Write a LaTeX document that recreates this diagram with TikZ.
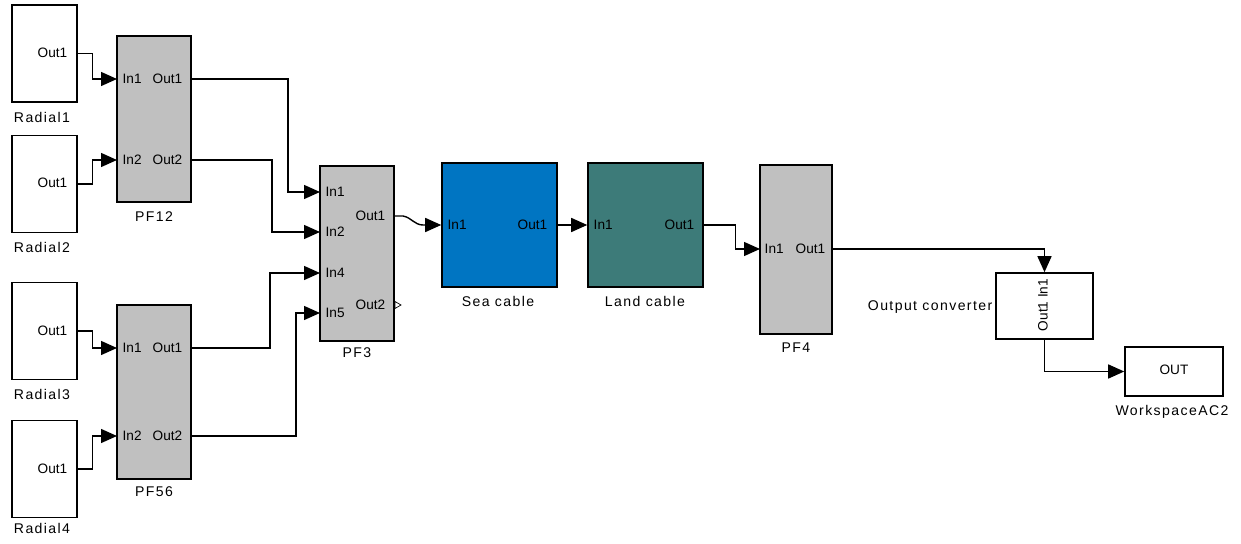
\documentclass[tikz,border=0pt]{standalone}
\usepackage{fontspec}
\setmainfont{Liberation Sans}
\newfontfamily\lblfont[LetterSpace=10]{Liberation Sans}
\usetikzlibrary{arrows.meta}
\definecolor{pfgray}{HTML}{C0C0C0}
\definecolor{seablue}{HTML}{0075C2}
\definecolor{landteal}{HTML}{3D7B79}

\begin{document}
\begin{tikzpicture}[x=0.25mm, y=-0.25mm, line width=1pt,
  blk/.style = {draw, line width=1.1pt, inner sep=0pt},
  rad/.style = {blk, fill=white, minimum width=16.25mm, minimum height=24.25mm},
  pf/.style = {blk, fill=pfgray, minimum width=18.5mm},
  cable/.style = {blk, minimum width=28.75mm, minimum height=31mm},
  port/.style = {font=\fontsize{9.7}{11}\selectfont, inner sep=0pt},
  lbl/.style = {font=\fontsize{10}{12}\lblfont, inner sep=0pt},
  wire/.style = {-{Triangle[length=4mm, width=3.5mm]}}]
  \useasboundingbox (0,0) rectangle (1241,544);

  % sources
  \node[rad] (r1) at (44.5,53.5) {};
  \node[rad] (r2) at (44.5,184) {};
  \node[rad] (r3) at (44.5,331) {};
  \node[rad] (r4) at (44.5,469) {};
  \node[port, anchor=east] (r1o) at (68,53) {Out1};
  \node[port, anchor=east] (r2o) at (68,183) {Out1};
  \node[port, anchor=east] (r3o) at (68,331) {Out1};
  \node[port, anchor=east] (r4o) at (68,469) {Out1};
  \node[lbl] (r1l) at (42,117) {Radial1};
  \node[lbl] (r2l) at (42,247) {Radial2};
  \node[lbl] (r3l) at (42,394) {Radial3};
  \node[lbl] (r4l) at (42,528) {Radial4};

  % first power flow stage
  \node[pf, minimum height=41.5mm] (pf12) at (154,119) {};
  \node[pf, minimum height=43.5mm] (pf56) at (154,392) {};
  \coordinate (pf12i1) at (117,79);
  \coordinate (pf12i2) at (117,160);
  \coordinate (pf12o1) at (191,79);
  \coordinate (pf12o2) at (191,160);
  \coordinate (pf56i1) at (117,348);
  \coordinate (pf56i2) at (117,436);
  \coordinate (pf56o1) at (191,348);
  \coordinate (pf56o2) at (191,436);
  \node[port, anchor=west] (pf12a) at (122,79) {In1};
  \node[port, anchor=west] (pf12b) at (122,160) {In2};
  \node[port, anchor=east] (pf12c) at (183,79) {Out1};
  \node[port, anchor=east] (pf12d) at (183,160) {Out2};
  \node[port, anchor=west] (pf56a) at (122,348) {In1};
  \node[port, anchor=west] (pf56b) at (122,436) {In2};
  \node[port, anchor=east] (pf56c) at (183,348) {Out1};
  \node[port, anchor=east] (pf56d) at (183,436) {Out2};
  \node[lbl] (pf12l) at (154,217) {PF12};
  \node[lbl] (pf56l) at (154,492) {PF56};

  % collector
  \node[pf, minimum height=43.75mm] (pf3) at (357,253.5) {};
  \coordinate (pf3i1) at (320,192);
  \coordinate (pf3i2) at (320,232);
  \coordinate (pf3i4) at (320,273);
  \coordinate (pf3i5) at (320,313);
  \coordinate (pf3o1) at (394,216);
  \node[port, anchor=west] (pf3a) at (325,192) {In1};
  \node[port, anchor=west] (pf3b) at (325,232) {In2};
  \node[port, anchor=west] (pf3c) at (325,273) {In4};
  \node[port, anchor=west] (pf3d) at (325,313) {In5};
  \node[port, anchor=east] (pf3e) at (386,216) {Out1};
  \node[port, anchor=east] (pf3f) at (386,305) {Out2};
  \draw[line width=0.5pt] (395,301.5) -- (401,305) -- (395,308.5) -- cycle;
  \node[lbl] (pf3l) at (357,353) {PF3};

  % cables
  \node[cable, fill=seablue] (sea) at (499.5,225) {};
  \node[cable, fill=landteal] (land) at (645.5,225) {};
  \node[port, anchor=west] (seaa) at (447,225) {In1};
  \node[port, anchor=east] (seab) at (548,225) {Out1};
  \node[port, anchor=west] (landa) at (593,225) {In1};
  \node[port, anchor=east] (landb) at (695,225) {Out1};
  \node[lbl] (seal) at (498,301) {Sea cable};
  \node[lbl] (landl) at (645,301) {Land cable};

  % onshore side
  \node[pf, minimum width=18mm, minimum height=42.25mm] (pf4) at (796,249.5) {};
  \coordinate (pf4i1) at (760,249);
  \coordinate (pf4o1) at (832,249);
  \node[port, anchor=west] (pf4a) at (764,249) {In1};
  \node[port, anchor=east] (pf4b) at (826,249) {Out1};
  \node[lbl] (pf4l) at (796,348) {PF4};

  \node[blk, minimum width=24.25mm, minimum height=16.5mm] (conv) at (1044.5,306) {};
  \node[port, rotate=90] (convt) at (1043,305) {Out1 In1};
  \node[lbl, anchor=east] (convl) at (993,307) {Output converter};

  \node[blk, minimum width=24.5mm, minimum height=12.25mm] (ws) at (1174,371.5) {};
  \node[port] (wst) at (1174,370) {OUT};
  \node[lbl] (wsl) at (1172,412) {WorkspaceAC2};

  % signal lines
  \draw[wire] (r1.east) -- ++(15,0) |- (pf12i1);
  \draw[wire] (r2.east) -- ++(15,0) |- (pf12i2);
  \draw[wire] (r3.east) -- ++(15,0) |- (pf56i1);
  \draw[wire] (r4.east) -- ++(15,0) |- (pf56i2);
  \draw[wire] (pf12o1) -- ++(97,0) |- (pf3i1);
  \draw[wire] (pf12o2) -- ++(81,0) |- (pf3i2);
  \draw[wire] (pf56o1) -- ++(79,0) |- (pf3i4);
  \draw[wire] (pf56o2) -- ++(105,0) |- (pf3i5);
  \draw[wire] (pf3o1) -- ++(9,0) to[out=-10, in=180] ++(20,9) -- (sea.west);
  \draw[wire] (sea) -- (land);
  \draw[wire] (land.east) -- ++(32,0) |- (pf4i1);
  \draw[wire] (pf4o1) -| (conv.north);
  \draw[wire] (conv.south) |- (ws.west);
\end{tikzpicture}
\end{document}
